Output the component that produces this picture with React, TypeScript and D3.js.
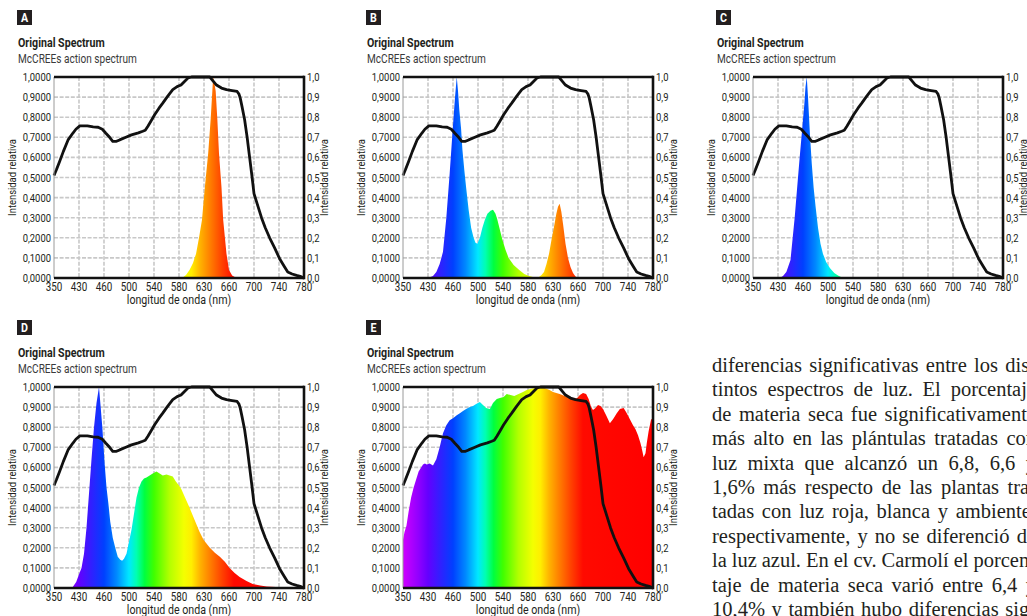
import { useEffect, useRef } from "react";
import * as d3 from "d3";

// eje x: etiquetas no equidistantes en nm, dibujadas a intervalos iguales
const xTicks = [350, 430, 460, 500, 540, 580, 630, 660, 700, 740, 780];
const yTicks = [0, 0.1, 0.2, 0.3, 0.4, 0.5, 0.6, 0.7, 0.8, 0.9, 1.0];
const leftLabels = ["0,0000", "0,1000", "0,2000", "0,3000", "0,4000", "0,5000", "0,6000", "0,7000", "0,8000", "0,9000", "1,0000"];
const rightLabels = ["0,0", "0,1", "0,2", "0,3", "0,4", "0,5", "0,6", "0,7", "0,8", "0,9", "1,0"];

// espectro de acción de McCree (curva negra, igual en todos los paneles)
const mccreeNm = [350, 358, 368, 380, 395, 410, 420, 431, 440, 447, 453, 458, 463, 469, 474, 480, 485, 495, 504, 515, 522, 526, 530, 535, 541, 548, 554, 562, 570, 577, 584, 591, 598, 605, 618, 630, 637, 641, 645, 651, 657, 665, 673, 676, 678, 681, 685, 689, 693, 697, 700, 706, 712, 718, 725, 733, 741, 748, 754, 761, 768, 774, 780];
const mccreeVal = [0.51, 0.54, 0.58, 0.63, 0.687, 0.72, 0.74, 0.757, 0.757, 0.752, 0.75, 0.74, 0.72, 0.7, 0.68, 0.68, 0.687, 0.7, 0.712, 0.722, 0.73, 0.735, 0.754, 0.78, 0.812, 0.845, 0.87, 0.905, 0.937, 0.952, 0.96, 0.978, 0.995, 1.0, 1.0, 1.0, 1.0, 0.98, 0.96, 0.945, 0.937, 0.932, 0.928, 0.915, 0.895, 0.85, 0.787, 0.7, 0.6, 0.5, 0.42, 0.36, 0.3, 0.25, 0.2, 0.15, 0.096, 0.06, 0.03, 0.02, 0.013, 0.008, 0.0];

// A: LED rojo
const redNm = [586, 594, 601, 608, 614, 620, 626, 631, 635, 638, 640, 641, 642, 644, 646, 648, 651, 653, 657, 660, 665, 672];
const redVal = [0, 0.015, 0.04, 0.075, 0.12, 0.2, 0.29, 0.45, 0.62, 0.79, 0.93, 1.0, 0.98, 0.93, 0.79, 0.62, 0.45, 0.29, 0.12, 0.04, 0.012, 0];

// B: luz mixta (azul + verde + rojo)
const mixNm = [430, 436, 440, 444, 448, 452, 456, 460, 463, 466, 468, 470, 473, 475, 478, 481, 485, 489, 493, 496, 499, 503, 507, 511, 515, 520, 524, 528, 531, 535, 539, 544, 549, 557, 566, 574, 582, 592, 602, 607, 612, 617, 622, 627, 631, 634, 636, 638, 640, 642, 645, 648, 651, 654, 657, 661];
const mixVal = [0, 0.01, 0.03, 0.07, 0.13, 0.3, 0.52, 0.76, 0.89, 1.0, 0.93, 0.84, 0.74, 0.64, 0.54, 0.45, 0.34, 0.25, 0.2, 0.175, 0.17, 0.2, 0.25, 0.29, 0.32, 0.335, 0.34, 0.32, 0.29, 0.24, 0.19, 0.14, 0.1, 0.065, 0.04, 0.02, 0.01, 0.004, 0.005, 0.015, 0.03, 0.07, 0.12, 0.19, 0.25, 0.32, 0.355, 0.37, 0.33, 0.27, 0.17, 0.1, 0.055, 0.025, 0.008, 0];

// C: LED azul
const blueNm = [432, 436, 440, 445, 450, 453, 456, 459, 462, 464, 466, 468, 471, 474, 477, 480, 484, 488, 492, 497, 503, 510, 516, 524];
const blueVal = [0, 0.01, 0.03, 0.09, 0.3, 0.45, 0.6, 0.74, 0.86, 0.95, 1.0, 0.9, 0.72, 0.57, 0.45, 0.36, 0.25, 0.17, 0.12, 0.08, 0.05, 0.025, 0.013, 0];

// D: LED blanco
const whiteNm = [400, 410, 421, 428, 433, 436, 439, 442, 445, 448, 451, 454, 456, 458, 461, 464, 467, 470, 474, 478, 482, 486, 489, 492, 496, 500, 504, 508, 512, 516, 520, 524, 528, 533, 538, 544, 549, 554, 560, 565, 570, 575, 580, 585, 592, 601, 611, 621, 629, 637, 643, 649, 655, 661, 669, 677, 688, 698, 710, 720, 735, 752, 765];
const whiteVal = [0, 0.005, 0.03, 0.06, 0.1, 0.17, 0.3, 0.47, 0.64, 0.8, 0.92, 1.0, 0.9, 0.8, 0.62, 0.5, 0.42, 0.33, 0.25, 0.2, 0.155, 0.14, 0.135, 0.145, 0.17, 0.23, 0.29, 0.37, 0.45, 0.5, 0.53, 0.545, 0.55, 0.56, 0.57, 0.58, 0.57, 0.56, 0.565, 0.56, 0.555, 0.53, 0.51, 0.49, 0.45, 0.4, 0.34, 0.28, 0.24, 0.2, 0.175, 0.155, 0.13, 0.1, 0.075, 0.055, 0.035, 0.02, 0.012, 0.008, 0.005, 0.002, 0];

// E: luz ambiente (solar)
const sunNm = [350, 355, 361, 368, 376, 384, 392, 400, 408, 414, 420, 426, 432, 436, 440, 444, 448, 452, 456, 460, 466, 471, 476, 481, 487, 492, 497, 503, 508, 513, 519, 524, 530, 535, 541, 546, 552, 558, 565, 572, 578, 585, 593, 603, 613, 623, 630, 638, 644, 650, 655, 659, 663, 668, 673, 677, 681, 684, 688, 692, 696, 700, 705, 711, 716, 722, 727, 733, 738, 743, 748, 752, 756, 760, 763, 765, 768, 770, 773, 777, 780];
const sunVal = [0.24, 0.28, 0.31, 0.38, 0.45, 0.5, 0.54, 0.58, 0.6, 0.615, 0.62, 0.615, 0.62, 0.61, 0.64, 0.7, 0.77, 0.81, 0.835, 0.845, 0.86, 0.87, 0.88, 0.89, 0.9, 0.905, 0.915, 0.925, 0.91, 0.895, 0.89, 0.92, 0.94, 0.945, 0.95, 0.965, 0.96, 0.955, 0.965, 0.975, 0.985, 0.99, 0.995, 1.0, 0.995, 0.985, 0.975, 0.965, 0.955, 0.945, 0.94, 0.945, 0.96, 0.97, 0.965, 0.94, 0.9, 0.885, 0.895, 0.91, 0.905, 0.89, 0.86, 0.82, 0.84, 0.87, 0.89, 0.895, 0.87, 0.84, 0.81, 0.79, 0.76, 0.72, 0.68, 0.65, 0.67, 0.72, 0.78, 0.84, 0.84];

// color del espectro visible según longitud de onda
const hueNm = [350, 400, 430, 445, 460, 480, 500, 512, 525, 540, 565, 590, 605, 622, 637, 652, 668, 780];
const hueColor = ["#d000ff", "#9000ff", "#6400ff", "#3020ff", "#0040ff", "#0088ff", "#00e8ff", "#00ffb0", "#00ff40", "#40ff00", "#b4ff00", "#f4ff00", "#ffee00", "#ffb400", "#ff8000", "#ff4000", "#ff0a00", "#ff0000"];

const bodyLines = [
  "diferencias significativas entre los dis-",
  "tintos espectros de luz. El porcentaje",
  "de materia seca fue significativamente",
  "más alto en las plántulas tratadas con",
  "luz mixta que alcanzó un 6,8, 6,6 y",
  "1,6% más respecto de las plantas tra-",
  "tadas con luz roja, blanca y ambiente,",
  "respectivamente, y no se diferenció de",
  "la luz azul. En el cv. Carmolí el porcen-",
  "taje de materia seca varió entre 6,4 y",
  "10,4% y también hubo diferencias sig-",
];

const panels = [
  { letter: "A", ox: 0, oy: 0, nm: redNm, val: redVal },
  { letter: "B", ox: 349, oy: 0, nm: mixNm, val: mixVal },
  { letter: "C", ox: 699, oy: 0, nm: blueNm, val: blueVal },
  { letter: "D", ox: 0, oy: 310, nm: whiteNm, val: whiteVal },
  { letter: "E", ox: 349, oy: 310, nm: sunNm, val: sunVal },
];

const FONT = "Roboto, 'Liberation Sans', sans-serif";
const SX = 0.82; // estrechar la fuente (tipografía condensada del original)
const W = 1027;
const H = 616;
const pw = 250;
const ph = 201;

const x = d3.scaleLinear()
  .domain(xTicks)
  .range(xTicks.map((_, i) => (i * pw) / (xTicks.length - 1)));
const y = d3.scaleLinear().domain([0, 1]).range([ph, 0]);

const area = d3.area<[number, number]>()
  .x(d => x(d[0]))
  .y0(ph)
  .y1(d => y(d[1]));
const line = d3.line<[number, number]>()
  .x(d => x(d[0]))
  .y(d => y(d[1]));

const mccree = d3.zip(mccreeNm, mccreeVal) as [number, number][];

// texto condensado
function CT({ x, y, rot = 0, children, ...rest }: any) {
  return (
    <text transform={`translate(${x},${y}) rotate(${rot}) scale(${SX},1)`} {...rest}>{children}</text>
  );
}

function Panel({ letter, ox, oy, nm, val }) {
  const px = ox + 54;
  const py = oy + 77;
  const spec = d3.zip(nm, val) as [number, number][];
  return (
    <g fontFamily={FONT}>
      <rect x={ox + 17} y={oy + 10} width={15} height={15} fill="#231f20" />
      <CT x={ox + 24.5} y={oy + 22} fill="#fff" fontSize={13} fontWeight="bold" textAnchor="middle">{letter}</CT>
      <CT x={ox + 18} y={oy + 47} fontSize={13} fontWeight="bold" fill="#231f20">Original Spectrum</CT>
      <CT x={ox + 18} y={oy + 63} fontSize={12.3} fill="#3a3a3a">McCREEs action spectrum</CT>
      <g transform={`translate(${px},${py})`} fontSize={11.5} fill="#231f20">
        {xTicks.slice(1, -1).map(t => (
          <line key={"v" + t} x1={x(t)} x2={x(t)} y1={0} y2={ph} stroke="#c8c8c8" strokeWidth={1.6} strokeDasharray="4,1.6" />
        ))}
        {yTicks.slice(1, -1).map(t => (
          <line key={"h" + t} x1={0} x2={pw} y1={y(t)} y2={y(t)} stroke="#c8c8c8" strokeWidth={1.6} strokeDasharray="4,1.6" />
        ))}
        <path d={area(spec) ?? ""} fill="url(#spectrum)" />
        <path d={line(mccree) ?? ""} fill="none" stroke="#111" strokeWidth={2.8} strokeLinejoin="round" />
        <line x1={0} x2={0} y1={0} y2={ph} stroke="#9a9a9a" strokeWidth={1} />
        <line x1={0} x2={pw} y1={0} y2={0} stroke="#111" strokeWidth={2.6} />
        <line x1={0} x2={pw} y1={ph} y2={ph} stroke="#111" strokeWidth={2.6} />
        <line x1={pw} x2={pw} y1={-1.3} y2={ph + 1.3} stroke="#111" strokeWidth={2.6} />
        {yTicks.map((t, i) => (
          <CT key={"l" + t} x={-3} y={y(t) + 4} textAnchor="end">{leftLabels[i]}</CT>
        ))}
        {yTicks.map((t, i) => (
          <CT key={"r" + t} x={pw + 3} y={y(t) + 4}>{rightLabels[i]}</CT>
        ))}
        {xTicks.map(t => (
          <CT key={"x" + t} x={x(t)} y={ph + 13} textAnchor="middle" fontSize={12}>{t}</CT>
        ))}
        <CT x={pw / 2} y={ph + 26} textAnchor="middle" fontSize={13}>longitud de onda (nm)</CT>
        <CT x={-38} y={ph / 2} rot={-90} textAnchor="middle">Intensidad relativa</CT>
        <CT x={pw + 24} y={ph / 2} rot={-90} textAnchor="middle">Intensidad relativa</CT>
      </g>
    </g>
  );
}

function BodyText() {
  const ref = useRef<SVGGElement>(null);
  const left = 712;
  const right = 1036;
  useEffect(() => {
    // justificado: reparte el espacio sobrante entre las palabras
    const g = d3.select(ref.current);
    g.selectAll<SVGTextElement, unknown>("text").each(function () {
      const spans = Array.from(this.querySelectorAll("tspan")) as SVGTSpanElement[];
      const widths = spans.map(s => s.getComputedTextLength());
      const total = d3.sum(widths);
      const gap = (right - left - total) / Math.max(1, spans.length - 1);
      let cx = left;
      spans.forEach((s, i) => {
        s.setAttribute("x", String(cx));
        cx += widths[i] + gap;
      });
    });
  }, []);
  return (
    <g ref={ref} fontFamily="'Liberation Serif', 'DejaVu Serif', serif" fontSize={20.5} fill="#231f20">
      {bodyLines.map((ln, i) => (
        <text key={i} y={372 + i * 24.4}>
          {ln.split(" ").map((w, j) => (
            <tspan key={j} x={left}>{w}</tspan>
          ))}
        </text>
      ))}
    </g>
  );
}

export default function App() {
  return (
    <svg width={W} height={H} style={{ position: "absolute", left: 0, top: 0, background: "#fff" }}>
      <defs>
        <linearGradient id="spectrum" gradientUnits="userSpaceOnUse" x1={0} x2={pw} y1={0} y2={0}>
          {hueNm.map((n, i) => (
            <stop key={n} offset={x(n) / pw} stopColor={hueColor[i]} />
          ))}
        </linearGradient>
      </defs>
      {panels.map(p => (
        <Panel key={p.letter} {...p} />
      ))}
      <BodyText />
    </svg>
  );
}
